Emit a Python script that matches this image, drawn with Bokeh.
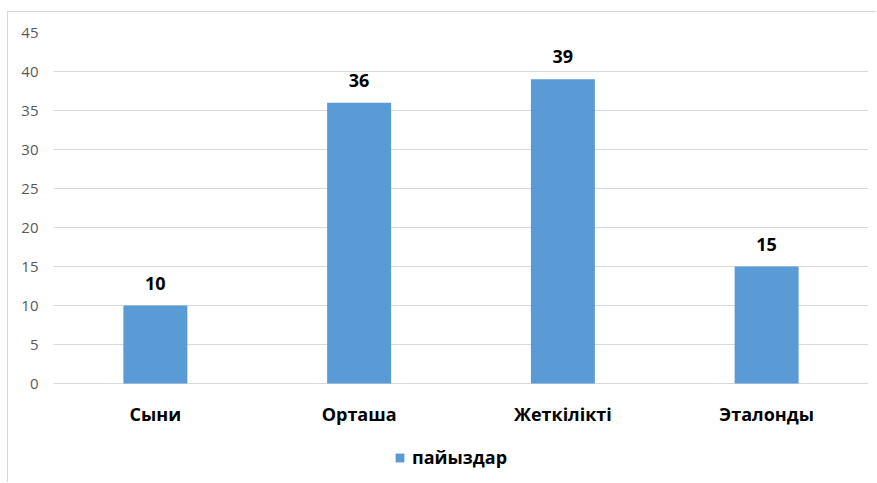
from bokeh.plotting import figure
from bokeh.models import ColumnDataSource, LabelSet, Legend, LegendItem, Range1d, FactorRange
from bokeh.core.properties import value
from bokeh.embed import file_html
from bokeh.resources import INLINE

categories = ["Сыни", "Орташа", "Жеткілікті", "Эталонды"]
values = [10, 36, 39, 15]
series_name = "пайыздар"
y_ticks = [0, 5, 10, 15, 20, 25, 30, 35, 40, 45]

FONT = "Open Sans"
BAR = "#5B9BD5"
GRID = "#D9D9D9"

src = ColumnDataSource(dict(cat=categories, val=values, lbl=[str(v) for v in values]))

# frame spans from the 45 line down to the canvas bottom; 0 sits 351 px below the top
p = figure(width=869, height=471, output_backend="svg", toolbar_location=None,
           x_range=FactorRange(factors=categories), y_range=Range1d(-12.82, 45),
           min_border_left=45, min_border_right=9, min_border_top=20, min_border_bottom=0)
p.margin = (12, 0, 0, 8)
p.styles = {"box-shadow": "-1px -1px 0 0 #D9D9D9"}
p.outline_line_color = None
p.background_fill_color = "white"
p.border_fill_color = "white"

r = p.vbar(x="cat", top="val", width=0.314, source=src, fill_color=BAR, line_color=None)

labels = LabelSet(x="cat", y="val", text="lbl", source=src, text_align="center",
                  text_baseline="bottom", y_offset=16, text_font=value(FONT),
                  text_font_style="bold", text_font_size="18px", text_color="#000000")
p.add_layout(labels)

p.xgrid.grid_line_color = None
p.ygrid.grid_line_color = GRID
p.ygrid.grid_line_width = 1
p.yaxis.ticker = y_ticks
p.yaxis.axis_line_color = None
p.yaxis.major_tick_line_color = None
p.yaxis.minor_tick_line_color = None
p.yaxis.major_label_standoff = 9
p.yaxis.major_label_text_font = FONT
p.yaxis.major_label_text_font_size = "15px"
p.yaxis.major_label_text_color = "#595959"

p.xaxis.fixed_location = 0
p.xaxis.axis_line_color = None
p.xaxis.major_tick_line_color = None
p.xaxis.minor_tick_line_color = None
p.xaxis.major_label_standoff = 12
p.xaxis.major_label_text_font = FONT
p.xaxis.major_label_text_font_style = "bold"
p.xaxis.major_label_text_font_size = "18px"
p.xaxis.major_label_text_color = "#000000"

legend = Legend(items=[LegendItem(label=series_name, renderers=[r])], location=(341, 14),
                orientation="horizontal", border_line_color=None, background_fill_alpha=0,
                glyph_width=11, glyph_height=11, label_standoff=7,
                label_text_font=FONT, label_text_font_style="bold",
                label_text_font_size="18px", label_text_color="#000000",
                margin=0, padding=0)
p.add_layout(legend)

open("out.html", "w").write(file_html(p, INLINE))
